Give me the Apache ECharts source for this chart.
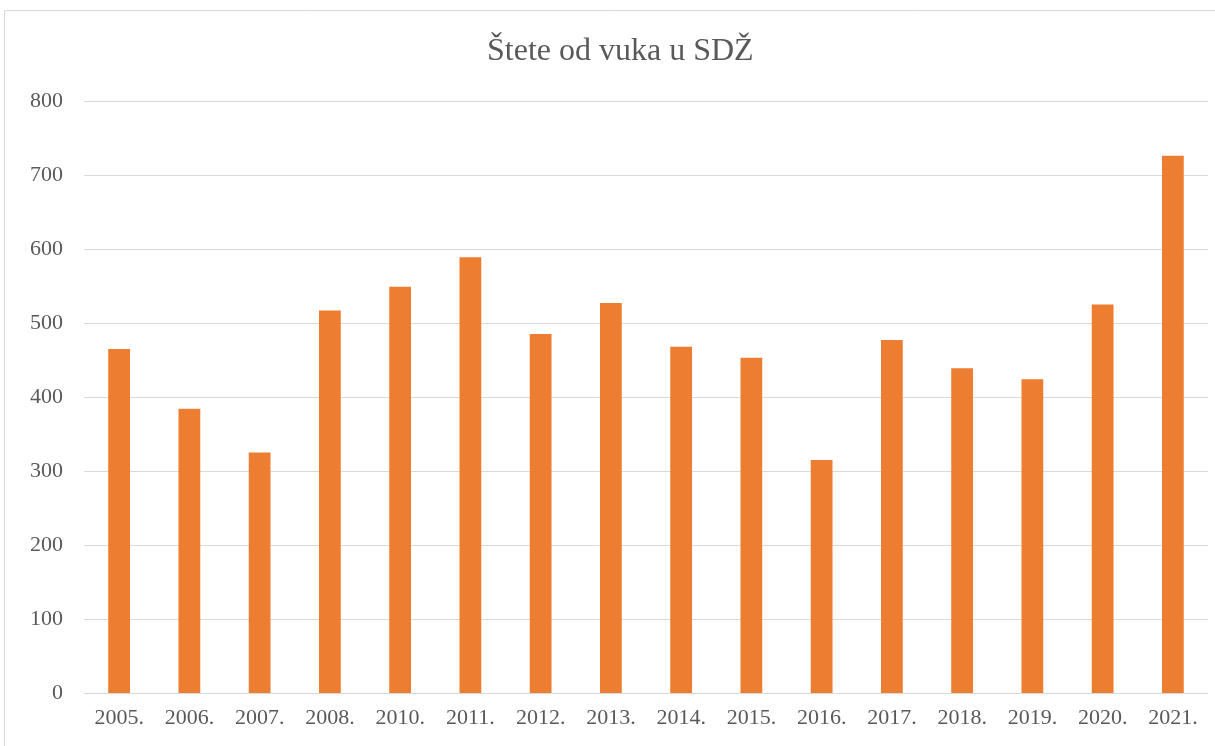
<!DOCTYPE html>
<html>
<head>
<meta charset="utf-8">
<script src="https://cdn.jsdelivr.net/npm/echarts@6/dist/echarts.min.js"></script>
<style>html,body{margin:0;padding:0;background:#fff}#c{width:1215px;height:746px}</style>
</head>
<body>
<div id="c"></div>
<script>
const titleText = 'Štete od vuka u SDŽ';
const categories = ['2005.', '2006.', '2007.', '2008.', '2010.', '2011.', '2012.', '2013.', '2014.', '2015.', '2016.', '2017.', '2018.', '2019.', '2020.', '2021.'];
const values = [465, 384, 325, 517, 549, 589, 485, 527, 468, 453, 315, 477, 439, 424, 525, 726];

const chart = echarts.init(document.getElementById('c'), null, {renderer: 'canvas'});
const font = '"Liberation Serif", "Times New Roman", serif';
chart.setOption({
  backgroundColor: '#ffffff',
  animation: false,
  graphic: [{
    type: 'rect',
    shape: {x: 4.5, y: 10.5, width: 1240, height: 760},
    style: {fill: 'none', stroke: '#d9d9d9', lineWidth: 1},
    silent: true
  }],
  title: {
    text: titleText,
    left: 482,
    top: 31,
    textStyle: {fontFamily: font, fontSize: 32, fontWeight: 'normal', color: '#595959'}
  },
  grid: {left: 84, right: 7, top: 101, bottom: 53, containLabel: false},
  xAxis: {
    type: 'category',
    data: categories,
    axisLine: {lineStyle: {color: '#d9d9d9', width: 1}},
    axisTick: {show: false},
    axisLabel: {fontFamily: font, fontSize: 22, color: '#595959', margin: 14, interval: 0}
  },
  yAxis: {
    type: 'value',
    min: 0,
    max: 800,
    interval: 100,
    axisLine: {show: false},
    axisTick: {show: false},
    splitLine: {lineStyle: {color: '#d9d9d9', width: 1}},
    axisLabel: {fontFamily: font, fontSize: 22, color: '#595959', margin: 21}
  },
  series: [{
    type: 'bar',
    data: values,
    barWidth: '31%',
    itemStyle: {color: '#ED7D31'}
  }]
});
</script>
</body>
</html>
